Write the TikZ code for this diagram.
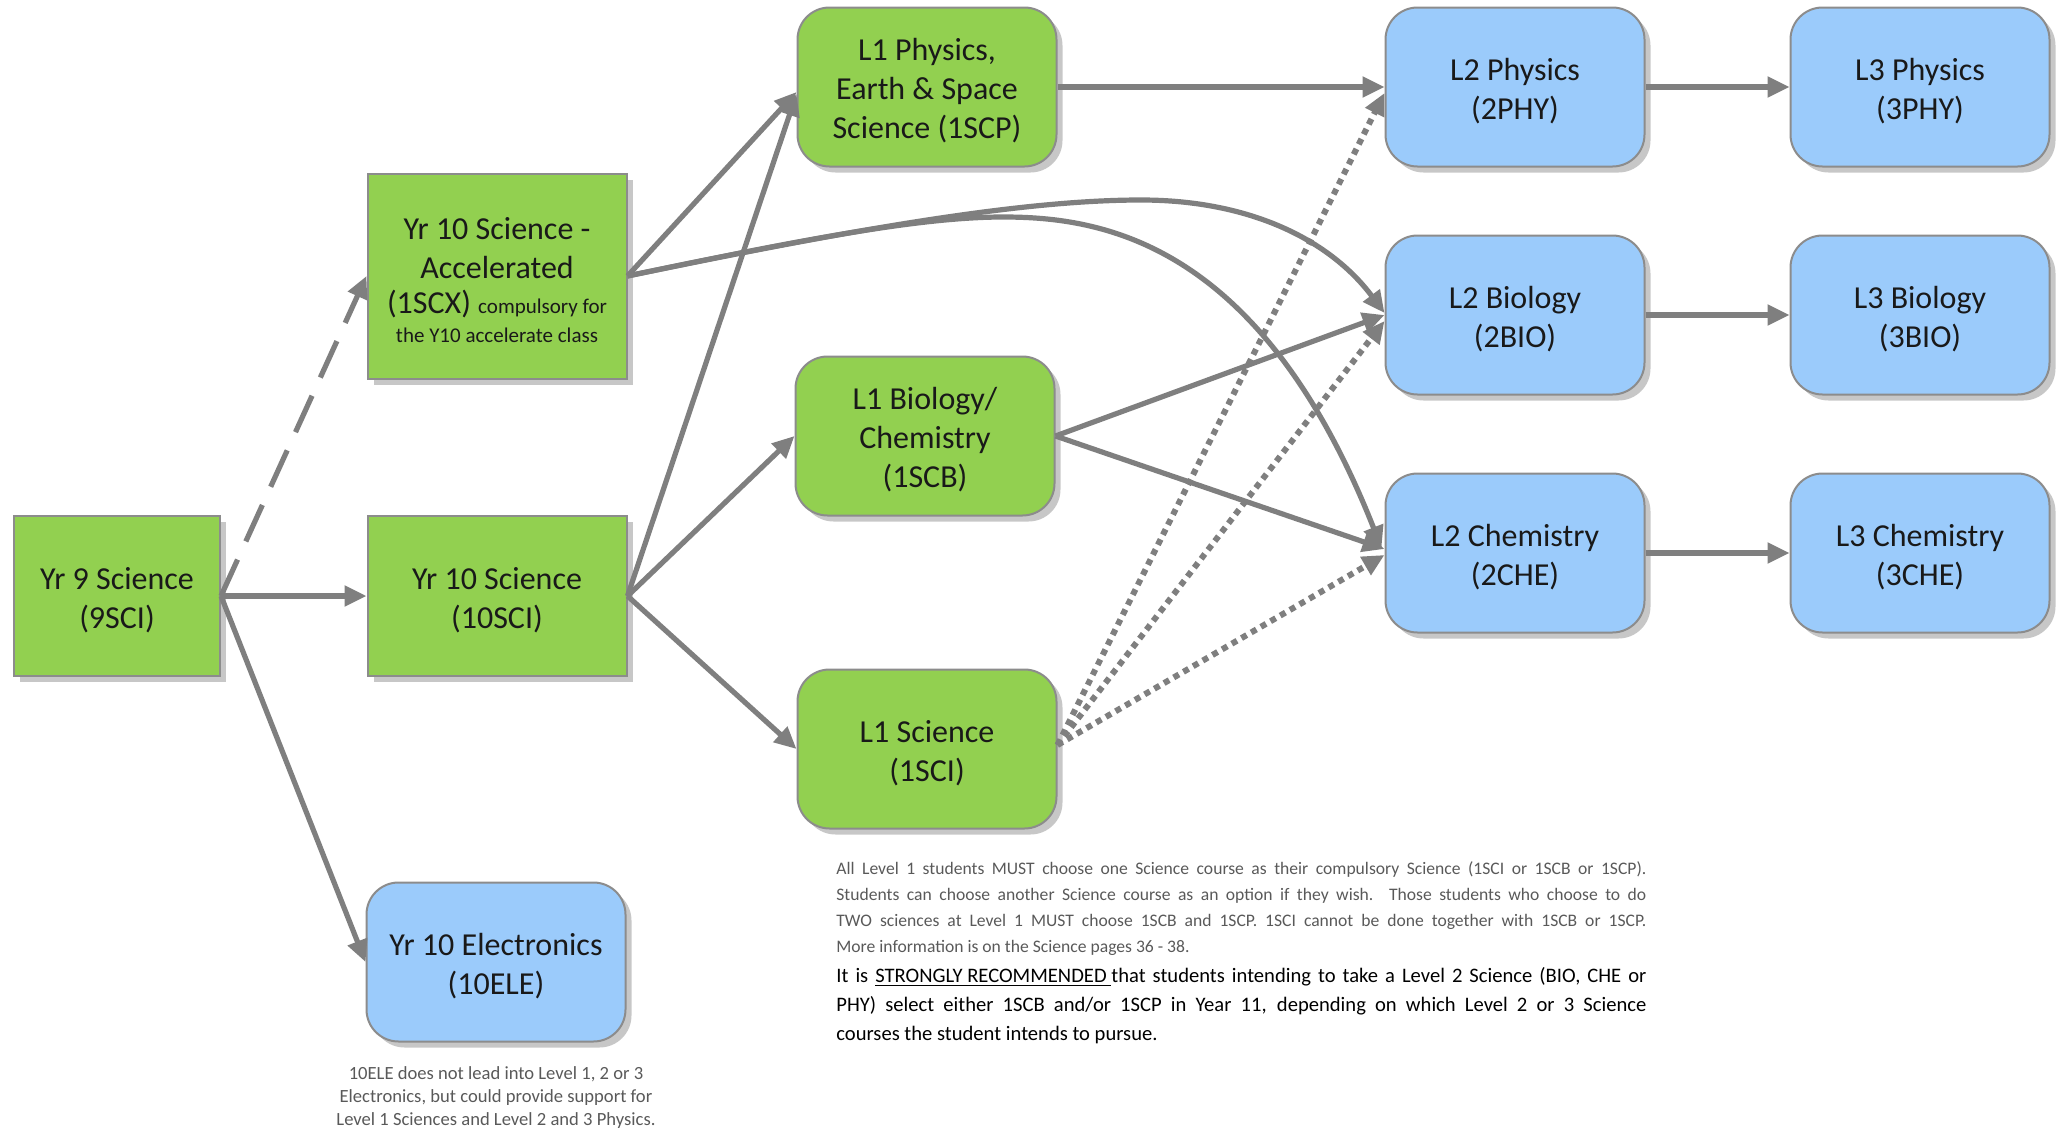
\documentclass[tikz,border=0pt]{standalone}
\usepackage{fontspec}
\setmainfont{Carlito}
\usetikzlibrary{arrows.meta,shadows,calc}
\definecolor{grn}{HTML}{92D050}
\definecolor{blu}{HTML}{9BCBFB}
\definecolor{edgec}{HTML}{8C8C8C}
\definecolor{lc}{HTML}{7F7F7F}
\definecolor{txtgray}{HTML}{595959}
\newcommand\tS{\rule{0pt}{15pt}}
\begin{document}
\begin{tikzpicture}[x=0.5pt,y=-0.5pt,
  box/.style={draw=edgec, line width=1pt, minimum width=129.5pt, minimum height=79.5pt,
    align=center, inner sep=2pt, text=black!90, font=\fontsize{16}{19.5}\selectfont,
    drop shadow={shadow xshift=3pt, shadow yshift=-3pt, fill=black!22, opacity=1, draw=none}},
  gbox/.style={box, fill=grn},
  rgbox/.style={box, fill=grn, rounded corners=16pt},
  rbbox/.style={box, fill=blu, rounded corners=16pt},
  conn/.style={draw=lc, line width=2.6pt, -{Triangle[length=11pt,width=10pt]}},
  dotconn/.style={conn, line width=3pt, dash pattern=on 3pt off 2.6pt},
  dashconn/.style={conn, dash pattern=on 20pt off 10pt},
  note/.style={inner sep=0pt, text=txtgray}
]
\useasboundingbox (0,0) rectangle (2058,1130);

% nodes
\node[gbox, minimum width=103pt, minimum height=80pt] (sci9) at (117,596) {\tS Yr 9 Science\\(9SCI)};
\node[gbox, minimum height=102.5pt] (scx) at (497,276) {\tS Yr 10 Science -\\Accelerated\\[-2pt](1SCX) {\fontsize{10.5}{13}\selectfont compulsory for}\\[-5pt]{\fontsize{10.5}{13}\selectfont the Y10 accelerate class}};
\node[gbox, minimum height=80pt] (sci10) at (497,596) {\tS Yr 10 Science\\(10SCI)};
\node[rbbox] (ele) at (496,962) {\tS Yr 10 Electronics\\(10ELE)};

\node[rgbox] (scp) at (927,87) {\tS L1 Physics,\\Earth \& Space\\Science (1SCP)};
\node[rgbox] (scb) at (925,436) {\tS L1 Biology/\\Chemistry\\(1SCB)};
\node[rgbox] (sci1) at (927,749) {\tS L1 Science\\(1SCI)};

\node[rbbox] (phy2) at (1515,87) {\tS L2 Physics\\(2PHY)};
\node[rbbox] (bio2) at (1515,315) {\tS L2 Biology\\(2BIO)};
\node[rbbox] (che2) at (1515,553) {\tS L2 Chemistry\\(2CHE)};

\node[rbbox] (phy3) at (1920,87) {\tS L3 Physics\\(3PHY)};
\node[rbbox] (bio3) at (1920,315) {\tS L3 Biology\\(3BIO)};
\node[rbbox] (che3) at (1920,553) {\tS L3 Chemistry\\(3CHE)};

% notes
\node[note, anchor=north, align=center, font=\fontsize{9.3}{11.6}\selectfont] (elenote) at (496,1066)
  {10ELE does not lead into Level 1, 2 or 3\\Electronics, but could provide support for\\Level 1 Sciences and Level 2 and 3 Physics.};
\node[note, anchor=north west, text width=405pt, align=justify, font=\fontsize{8.8}{13}\selectfont] (para1) at (836,861)
  {All Level 1 students MUST choose one Science course as their compulsory Science (1SCI or 1SCB or 1SCP).\linebreak
   Students can choose another Science course as an option if they wish. Those students who choose to do\linebreak
   TWO sciences at Level 1 MUST choose 1SCB and 1SCP. 1SCI cannot be done together with 1SCB or 1SCP.\linebreak
   More information is on the Science pages 36 - 38.};
\node[note, text=black, anchor=north west, text width=405pt, align=justify, font=\fontsize{10.3}{14.4}\selectfont] (para2) at (836,967)
  {It is \underline{STRONGLY RECOMMENDED\ }that students intending to take a Level 2 Science (BIO, CHE or\linebreak
   PHY) select either 1SCB and/or 1SCP in Year 11, depending on which Level 2 or 3 Science\linebreak
   courses the student intends to pursue.};

% connectors from Yr 9
\draw[conn] (sci9.east) -- (sci10.west);
\draw[dashconn] (sci9.east) -- (scx.west);
\draw[conn] (sci9.east) -- (ele.west);

% from Yr 10 accelerated
\draw[conn] (scx.east) -- ($(scp.west)+(0,5)$);
\draw[conn] (scx.east) .. controls (850,230) and (1020,200) .. (1141,200)
  .. controls (1250,200) and (1330,240) .. ($(bio2.west)+(0,-2)$);
\draw[conn] (scx.east) .. controls (800,240) and (920,217) .. (1003,217)
  .. controls (1100,217) and (1260,240) .. ($(che2.west)+(-3,-5)$);

% from Yr 10 science
\draw[conn] (sci10.east) -- ($(scp.west)+(0,7)$);
\draw[conn] (sci10.east) -- (scb.west);
\draw[conn] (sci10.east) -- (sci1.west);

% level 1 to level 2
\draw[conn] (scp.east) -- (phy2.west);
\draw[conn] (scb.east) -- (bio2.west);
\draw[conn] (scb.east) -- ($(che2.west)+(0,-4)$);
\draw[dotconn] ($(sci1.east)+(0,-4)$) -- ($(phy2.west)+(0,6)$);
\draw[dotconn] ($(sci1.east)+(0,-4)$) -- ($(bio2.west)+(0,6)$);
\draw[dotconn] ($(sci1.east)+(0,-4)$) -- ($(che2.west)+(0,2)$);

% level 2 to level 3
\draw[conn] (phy2.east) -- (phy3.west);
\draw[conn] (bio2.east) -- (bio3.west);
\draw[conn] (che2.east) -- (che3.west);
\end{tikzpicture}
\end{document}
